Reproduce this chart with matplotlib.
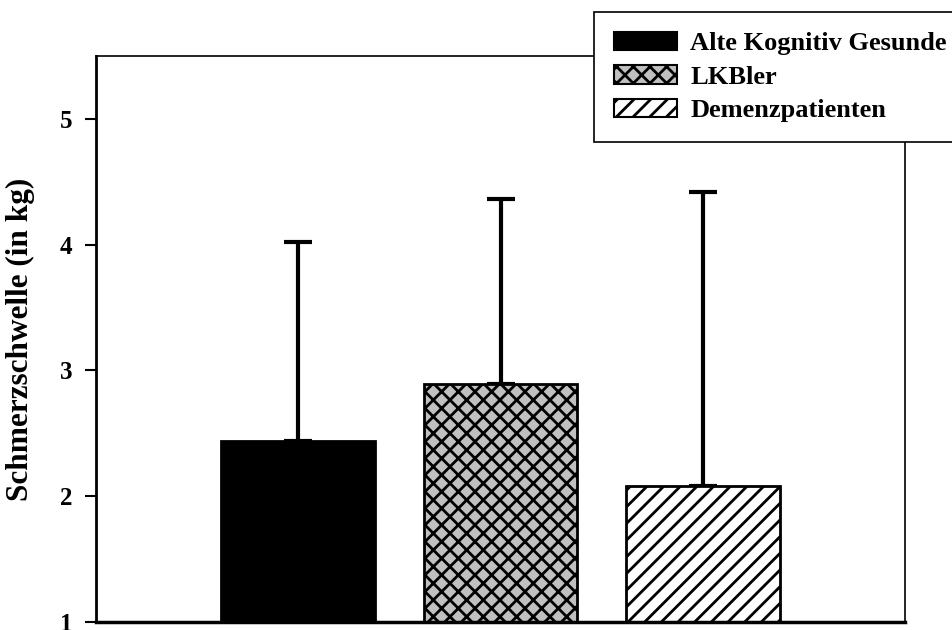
import matplotlib.pyplot as plt
from matplotlib.patches import Patch

# Group means and upper standard deviation for the pain threshold
groups = ["Alte Kognitiv Gesunde", "LKBler", "Demenzpatienten"]
means = [2.44, 2.89, 2.08]
sd_upper = [1.585, 1.47, 2.335]
yticks = [1, 2, 3, 4, 5]
ylabel = "Schmerzschwelle (in kg)"

plt.rcParams['font.family'] = ['Liberation Serif', 'DejaVu Serif']
plt.rcParams['font.weight'] = 'bold'
plt.rcParams['hatch.linewidth'] = 2.0

fills = ['black', '#c0c0c0', 'white']
hatches = [None, 'xx', '//']

fig = plt.figure(figsize=(9.52, 6.3), dpi=100)
ax = fig.add_axes([96 / 952, 8 / 630, 809 / 952, 566 / 630])

x = list(range(len(groups)))
for i in x:
    ax.bar(i, means[i], width=0.76, color=fills[i], edgecolor='black',
           hatch=hatches[i], linewidth=2, zorder=2)
ax.errorbar(x, means, yerr=[[0] * len(x), sd_upper], fmt='none',
            ecolor='black', elinewidth=3, capsize=10, capthick=3, zorder=1)

ax.set_xlim(-1, 3)
ax.set_ylim(1, 5.5)
ax.set_yticks(yticks)
ax.set_yticklabels([str(t) for t in yticks], fontsize=18, fontweight='bold')
ax.set_xticks([])
ax.tick_params(axis='y', direction='out', length=8, width=1.5, pad=9)
ax.set_ylabel(ylabel, fontsize=22.5, fontweight='bold')
ax.yaxis.set_label_coords(-0.0754, 0.5)

ax.spines['left'].set_linewidth(2)
ax.spines['bottom'].set_linewidth(2.5)
ax.spines['top'].set_linewidth(1.2)
ax.spines['right'].set_linewidth(1.2)

handles = [Patch(facecolor=fills[i], edgecolor='black', hatch=hatches[i], linewidth=1.5)
           for i in x]
leg = fig.legend(handles, groups, loc='upper left',
                 bbox_to_anchor=(594 / 952, 1 - 12 / 630),
                 prop={'family': 'Liberation Serif', 'weight': 'bold', 'size': 19},
                 frameon=True, fancybox=False, framealpha=1, edgecolor='black',
                 handlelength=2.4, handleheight=0.7, handletextpad=0.5,
                 labelspacing=0.38, borderpad=0.75, borderaxespad=0)
leg.get_frame().set_linewidth(1.2)

fig.savefig('out.png', dpi=100)
